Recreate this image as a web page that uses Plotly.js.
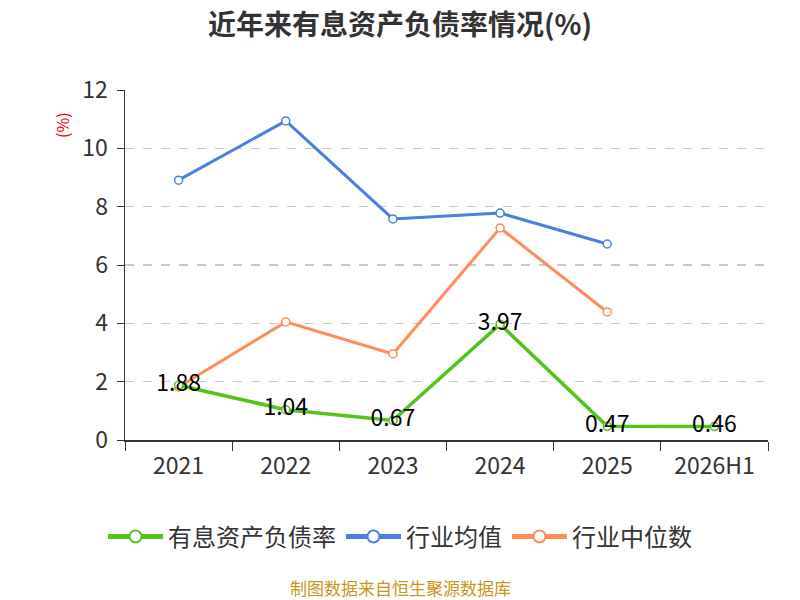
<!DOCTYPE html>
<html>
<head>
<meta charset="utf-8">
<script src="https://cdn.plot.ly/plotly-3.0.1.min.js"></script>
<style>
  body { margin: 0; background: #fff; }
  #chart { width: 800px; height: 600px; }
</style>
</head>
<body>
<div id="chart"></div>
<script>
// 年份
var years = ["2021", "2022", "2023", "2024", "2025", "2026H1"];
// 有息资产负债率
var debtRatio = [1.88, 1.04, 0.67, 3.97, 0.47, 0.46];
// 行业均值
var industryMean = [8.91, 10.94, 7.58, 7.78, 6.72, null];
// 行业中位数
var industryMedian = [1.82, 4.05, 2.95, 7.27, 4.39, null];
var yTicks = [0, 2, 4, 6, 8, 10, 12];

var font = "Noto Sans CJK SC, sans-serif";

function mk(color) {
  return { symbol: "circle", size: 8, color: "#fff", line: { color: color, width: 1.5 } };
}

var trace1 = {
  x: years,
  y: debtRatio,
  name: "有息资产负债率",
  type: "scatter",
  mode: "lines+markers+text",
  text: debtRatio.map(function (v) { return v.toFixed(2); }),
  textposition: "middle center",
  textfont: { family: font, size: 23, color: "#000" },
  line: { color: "#52c41a", width: 3.5 },
  marker: mk("#52c41a"),
  cliponaxis: false,
  legendrank: 1
};

var trace2 = {
  x: years,
  y: industryMean,
  name: "行业均值",
  type: "scatter",
  mode: "lines+markers",
  line: { color: "#4a7fe0", width: 3 },
  marker: mk("#4a7fe0"),
  cliponaxis: false,
  legendrank: 2
};

var trace3 = {
  x: years,
  y: industryMedian,
  name: "行业中位数",
  type: "scatter",
  mode: "lines+markers",
  line: { color: "#ff8c5a", width: 3 },
  marker: mk("#ff8c5a"),
  cliponaxis: false,
  legendrank: 3
};

var data = [trace2, trace3, trace1];

// page centre expressed in plot-area (paper) units
var midX = (400 - 125) / (800 - 125 - 32);

var layout = {
  width: 800,
  height: 600,
  plot_bgcolor: "#fff",
  paper_bgcolor: "#fff",
  font: { family: font, color: "#333" },
  margin: { l: 125, r: 32, t: 90, b: 160 },
  title: {
    text: "<b>近年来有息资产负债率情况(%)</b>",
    x: 0.5,
    xanchor: "center",
    y: 0.958,
    yanchor: "middle",
    font: { family: font, size: 28, color: "#333" }
  },
  xaxis: {
    type: "category",
    categoryorder: "array",
    categoryarray: years,
    range: [-0.5, 5.5],
    tickson: "boundaries",
    ticks: "outside",
    ticklen: 9,
    tickcolor: "#333",
    ticklabelstandoff: 4,
    showline: true,
    linecolor: "#333",
    linewidth: 2,
    showgrid: false,
    tickfont: { family: font, size: 23, color: "#333" },
    fixedrange: true
  },
  yaxis: {
    range: [0, 12],
    tickvals: yTicks,
    ticks: "outside",
    ticklen: 7,
    tickcolor: "#333",
    ticklabelstandoff: 4,
    showline: true,
    linecolor: "#333",
    linewidth: 1.5,
    showgrid: true,
    gridcolor: "#c8c8c8",
    griddash: "dash",
    gridwidth: 1.5,
    zeroline: false,
    tickfont: { family: font, size: 23, color: "#333" },
    fixedrange: true
  },
  showlegend: true,
  legend: {
    orientation: "h",
    x: midX,
    xanchor: "center",
    y: -0.277,
    yanchor: "middle",
    traceorder: "normal",
    itemsizing: "constant",
    font: { family: font, size: 24, color: "#333" },
    itemwidth: 55
  },
  annotations: [
    {
      text: "(%)",
      xref: "paper",
      yref: "paper",
      x: -0.098,
      y: 0.90,
      xanchor: "center",
      yanchor: "middle",
      textangle: -90,
      showarrow: false,
      font: { family: font, size: 16, color: "#e00" }
    },
    {
      text: "制图数据来自恒生聚源数据库",
      xref: "paper",
      yref: "paper",
      x: midX,
      y: -0.42,
      xanchor: "center",
      yanchor: "middle",
      showarrow: false,
      font: { family: font, size: 17, color: "#c8961e" }
    }
  ]
};

Plotly.newPlot("chart", data, layout, { displayModeBar: false, staticPlot: true });
</script>
</body>
</html>
